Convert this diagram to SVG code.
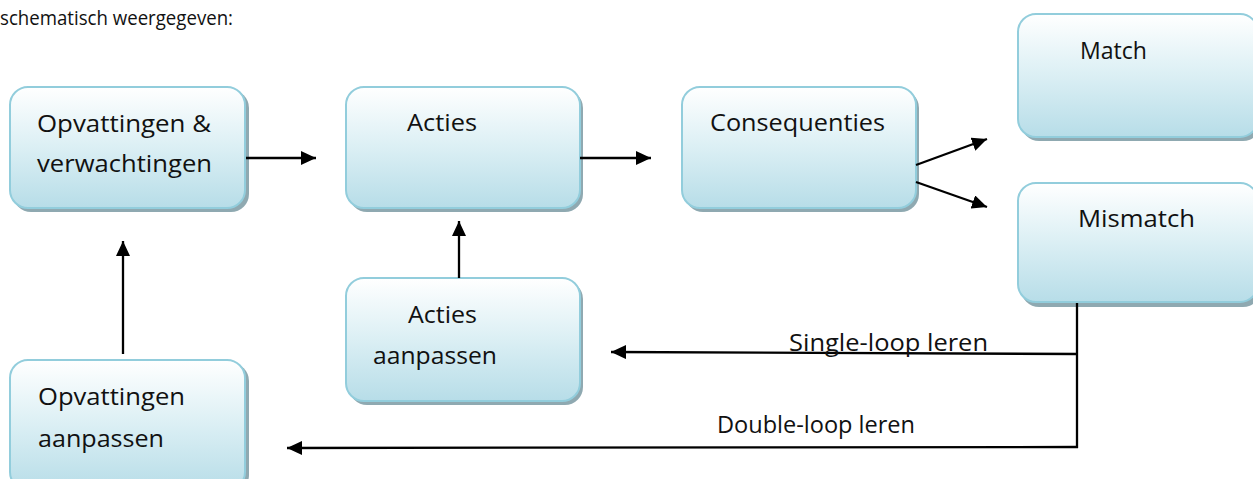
<svg xmlns="http://www.w3.org/2000/svg" width="1253" height="479" viewBox="0 0 1253 479">
<style>
.t{font-family:"Open Sans","Noto Sans","Liberation Sans",sans-serif;font-size:24.5px;fill:#111}
.h{font-family:"Open Sans","Noto Sans","Liberation Sans",sans-serif;font-size:20px;fill:#111}
.box{fill:url(#g);stroke:#92cddc;stroke-width:2}
.sh{fill:#8fa9b1}
.c{stroke:#000;stroke-width:2.3;fill:none}
</style>
<defs>
<linearGradient id="g" x1="0" y1="0" x2="0" y2="1">
<stop offset="0" stop-color="#ffffff"/>
<stop offset="0.5" stop-color="#dbeff4"/>
<stop offset="1" stop-color="#b7dde8"/>
</linearGradient>
<marker id="a" viewBox="0 0 15 14" refX="15" refY="7" markerWidth="15" markerHeight="14" markerUnits="userSpaceOnUse" orient="auto">
<path d="M0,0 L15,7 L0,14 z" fill="#000"/>
</marker>
</defs>
<rect width="1253" height="479" fill="#fff"/>
<text class="h" x="0" y="25" textLength="233" lengthAdjust="spacingAndGlyphs">schematisch weergegeven:</text>

<g id="n1">
<rect class="sh" x="13" y="90" width="236" height="122" rx="18"/>
<rect class="box" x="10" y="87" width="235" height="121" rx="18"/>
<text class="t" x="37" y="132" textLength="174" lengthAdjust="spacingAndGlyphs">Opvattingen &amp;</text>
<text class="t" x="37" y="172" textLength="175" lengthAdjust="spacingAndGlyphs">verwachtingen</text>
</g>
<g id="n2">
<rect class="sh" x="349" y="90" width="234" height="122" rx="18"/>
<rect class="box" x="346" y="87" width="234" height="121" rx="18"/>
<text class="t" x="407" y="131" textLength="70" lengthAdjust="spacingAndGlyphs">Acties</text>
</g>
<g id="n3">
<rect class="sh" x="685" y="90" width="234" height="122" rx="18"/>
<rect class="box" x="682" y="87" width="234" height="121" rx="18"/>
<text class="t" x="710" y="131" textLength="175" lengthAdjust="spacingAndGlyphs">Consequenties</text>
</g>
<g id="n4">
<rect class="sh" x="1021" y="17" width="240" height="124" rx="18"/>
<rect class="box" x="1018" y="14" width="240" height="123" rx="18"/>
<text class="t" x="1080" y="59" textLength="67" lengthAdjust="spacingAndGlyphs">Match</text>
</g>
<g id="n5">
<rect class="sh" x="1021" y="186" width="240" height="121" rx="18"/>
<rect class="box" x="1018" y="183" width="240" height="119" rx="18"/>
<text class="t" x="1078" y="227" textLength="117" lengthAdjust="spacingAndGlyphs">Mismatch</text>
</g>
<g id="n6">
<rect class="sh" x="349" y="281" width="234" height="124" rx="18"/>
<rect class="box" x="346" y="278" width="234" height="123" rx="18"/>
<text class="t" x="408" y="323" textLength="69" lengthAdjust="spacingAndGlyphs">Acties</text>
<text class="t" x="373" y="364" textLength="124" lengthAdjust="spacingAndGlyphs">aanpassen</text>
</g>
<g id="n7">
<rect class="sh" x="13" y="363" width="236" height="130" rx="18"/>
<rect class="box" x="10" y="360" width="235" height="130" rx="18"/>
<text class="t" x="38" y="405" textLength="147" lengthAdjust="spacingAndGlyphs">Opvattingen</text>
<text class="t" x="38" y="447" textLength="126" lengthAdjust="spacingAndGlyphs">aanpassen</text>
</g>

<g id="connectors">
<line class="c" x1="246" y1="158" x2="316" y2="158" marker-end="url(#a)"/>
<line class="c" x1="580" y1="158" x2="651" y2="158" marker-end="url(#a)"/>
<line class="c" x1="916" y1="165" x2="987" y2="139" marker-end="url(#a)"/>
<line class="c" x1="916" y1="182" x2="987" y2="207" marker-end="url(#a)"/>
<line class="c" x1="459" y1="278" x2="459" y2="221" marker-end="url(#a)"/>
<line class="c" x1="123" y1="354" x2="123" y2="241" marker-end="url(#a)"/>
<line class="c" x1="1077" y1="303" x2="1077" y2="448"/>
<line class="c" x1="1078" y1="354" x2="611" y2="352" marker-end="url(#a)"/>
<line class="c" x1="1078" y1="447" x2="287" y2="448" marker-end="url(#a)"/>
<text class="t" x="789" y="351" textLength="199" lengthAdjust="spacingAndGlyphs">Single-loop leren</text>
<text class="t" x="717" y="433" textLength="198" lengthAdjust="spacingAndGlyphs">Double-loop leren</text>
</g>
</svg>
